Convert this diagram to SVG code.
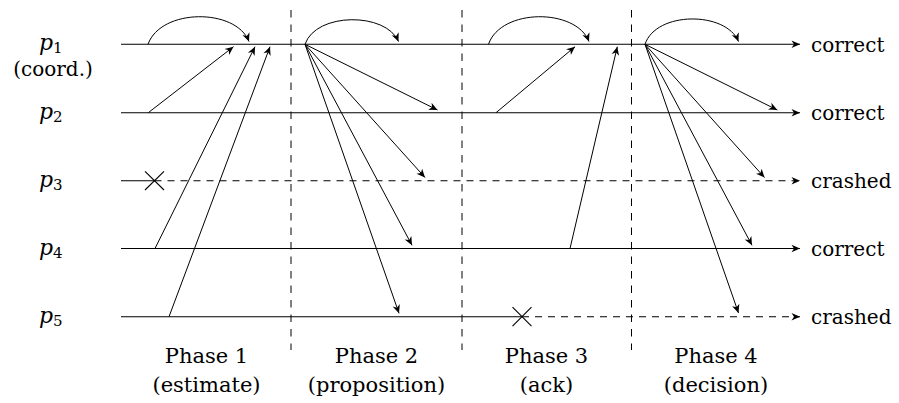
<svg xmlns="http://www.w3.org/2000/svg" width="899" height="403" viewBox="0 0 899 403">
<defs>
<style>
text{font-family:"DejaVu Serif",serif;font-size:20px;fill:#000}
.pl{font-style:italic;font-size:22px}
.sub{font-style:normal;font-size:15px}
.ph{font-size:21px;text-anchor:middle}
.mid{text-anchor:middle}
.ln{stroke:#000;stroke-width:1.1;fill:none}
.dash{stroke-dasharray:7 6}
.div{stroke:#000;stroke-width:1;stroke-dasharray:7.5 7;fill:none}
.msg{stroke:#000;stroke-width:1;fill:none;marker-end:url(#arr)}
.end{marker-end:url(#arr)}
</style>
<marker id="arr" viewBox="-10 -5 12 10" refX="0" refY="0" markerWidth="12" markerHeight="10" markerUnits="userSpaceOnUse" orient="auto">
<path d="M0,0 L-8.5,-3.8 L-6,0 L-8.5,3.8 Z" fill="#000"/>
</marker>
</defs>
<rect width="899" height="403" fill="#fff"/>

<g id="dividers">
<line class="div" x1="291" y1="10" x2="291" y2="350"/>
<line class="div" x1="462" y1="10" x2="462" y2="350"/>
<line class="div" x1="631.5" y1="10" x2="631.5" y2="350"/>
</g>

<g id="p1">
<text class="pl" x="39" y="49.5">p<tspan class="sub" dy="3">1</tspan></text>
<text class="mid" x="53" y="75.5">(coord.)</text>
<path class="ln end" d="M121,44.3 L800,44.3"/>
<text x="811" y="51.5">correct</text>
</g>

<g id="p2">
<text class="pl" x="39" y="118.5">p<tspan class="sub" dy="3">2</tspan></text>
<path class="ln end" d="M121,112.7 L800,112.7"/>
<text x="811" y="120">correct</text>
</g>

<g id="p3">
<text class="pl" x="39" y="186.5">p<tspan class="sub" dy="3">3</tspan></text>
<path class="ln" d="M121,180.7 L154.5,180.7"/>
<path class="ln dash end" d="M154.5,180.7 L800,180.7"/>
<path class="ln" d="M145,171.4 L164,190 M145,190 L164,171.4"/>
<text x="811" y="188">crashed</text>
</g>

<g id="p4">
<text class="pl" x="39" y="254.5">p<tspan class="sub" dy="3">4</tspan></text>
<path class="ln end" d="M121,248.5 L800,248.5"/>
<text x="811" y="256">correct</text>
</g>

<g id="p5">
<text class="pl" x="39" y="322.5">p<tspan class="sub" dy="3">5</tspan></text>
<path class="ln" d="M121,316.7 L522,316.7"/>
<path class="ln dash end" d="M522,316.7 L800,316.7"/>
<path class="ln" d="M512.5,307.2 L531.5,326.2 M512.5,326.2 L531.5,307.2"/>
<text x="811" y="324">crashed</text>
</g>

<g id="phase1">
<text class="ph" x="206.5" y="363">Phase 1</text>
<text class="ph" x="206.5" y="392">(estimate)</text>
</g>
<g id="phase2">
<text class="ph" x="376.5" y="363">Phase 2</text>
<text class="ph" x="376.5" y="392">(proposition)</text>
</g>
<g id="phase3">
<text class="ph" x="546.5" y="363">Phase 3</text>
<text class="ph" x="546.5" y="392">(ack)</text>
</g>
<g id="phase4">
<text class="ph" x="716" y="363">Phase 4</text>
<text class="ph" x="716" y="392">(decision)</text>
</g>

<g id="messages">
<path class="msg" d="M148,44.3 C161,8 236,8 249,41.5"/>
<path class="msg" d="M148.3,112.7 L233.5,46.7"/>
<path class="msg" d="M155,248.5 L255,46.7"/>
<path class="msg" d="M169,316.7 L270,46.7"/>

<path class="msg" d="M305,44.3 C316,12 386,12 398.5,41.5"/>
<path class="msg" d="M305,44.3 L437.5,110"/>
<path class="msg" d="M305,44.3 L425,177.5"/>
<path class="msg" d="M305,44.3 L412,245.3"/>
<path class="msg" d="M305,44.3 L399,313.3"/>

<path class="msg" d="M488.5,44.3 C501,8 576,8 589,41.5"/>
<path class="msg" d="M496,112.7 L575,46.7"/>
<path class="msg" d="M570,248.5 L617.3,46.7"/>

<path class="msg" d="M645,44.3 C656,11 726,11 738.5,41.5"/>
<path class="msg" d="M645,44.3 L777.3,110"/>
<path class="msg" d="M645,44.3 L764.5,177.5"/>
<path class="msg" d="M645,44.3 L752,245.3"/>
<path class="msg" d="M645,44.3 L738.5,313"/>
</g>
</svg>
